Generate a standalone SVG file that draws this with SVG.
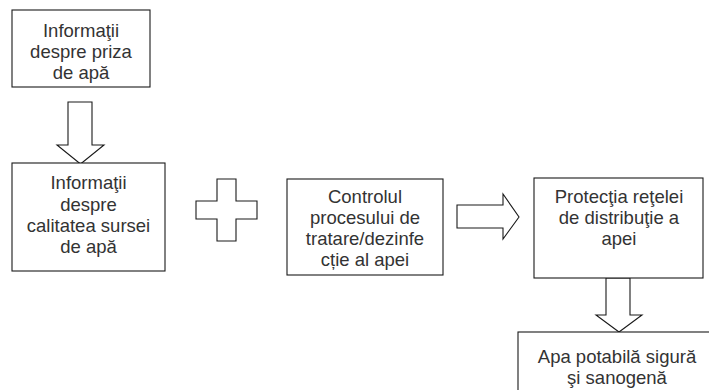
<svg xmlns="http://www.w3.org/2000/svg" width="709" height="390" viewBox="0 0 709 390">
<style>
.box{fill:#fff;stroke:#1a1a1a;stroke-width:1.1}
.shape{fill:#fff;stroke:#1a1a1a;stroke-width:1.1;stroke-linejoin:miter}
text{font-family:"Liberation Sans",Arial,sans-serif;font-size:18.5px;fill:#333;text-anchor:middle}
</style>
<rect width="709" height="390" fill="#fff"/>
<g id="connectors">
<polygon class="shape" points="68,102 92,102 92,145 104,145 80.5,164 57,145 68,145"/>
<polygon class="shape" points="217,179 236,179 236,201 257,201 257,219 236,219 236,241 217,241 217,219 196,219 196,201 217,201"/>
<polygon class="shape" points="457,205 503,205 503,194 519,217 503,239 503,228 457,228"/>
<polygon class="shape" points="606,278 630,278 630,315 642,315 619,332 596,315 606,315"/>
</g>
<g id="n1">
<rect class="box" x="12" y="10" width="138" height="77"/>
<text x="81" y="36.5">Informaţii</text>
<text x="81" y="57.5">despre priza</text>
<text x="81" y="78.5">de apă</text>
</g>
<g id="n2">
<rect class="box" x="12" y="163" width="153" height="108"/>
<text x="88.5" y="189">Informaţii</text>
<text x="88.5" y="211">despre</text>
<text x="88.5" y="232">calitatea sursei</text>
<text x="88.5" y="253">de apă</text>
</g>
<g id="n3">
<rect class="box" x="287" y="179" width="156" height="96"/>
<text x="365" y="203">Controlul</text>
<text x="365" y="224">procesului de</text>
<text x="365" y="245">tratare/dezinfe</text>
<text x="365" y="266">cție al apei</text>
</g>
<g id="n4">
<rect class="box" x="534" y="178" width="169" height="100"/>
<text x="619" y="203">Protecţia reţelei</text>
<text x="619" y="224">de distribuţie a</text>
<text x="619" y="245">apei</text>
</g>
<g id="n5">
<rect class="box" x="518" y="332" width="200" height="70"/>
<text x="617" y="363">Apa potabilă sigură</text>
<text x="617" y="384">şi sanogenă</text>
</g>
</svg>
